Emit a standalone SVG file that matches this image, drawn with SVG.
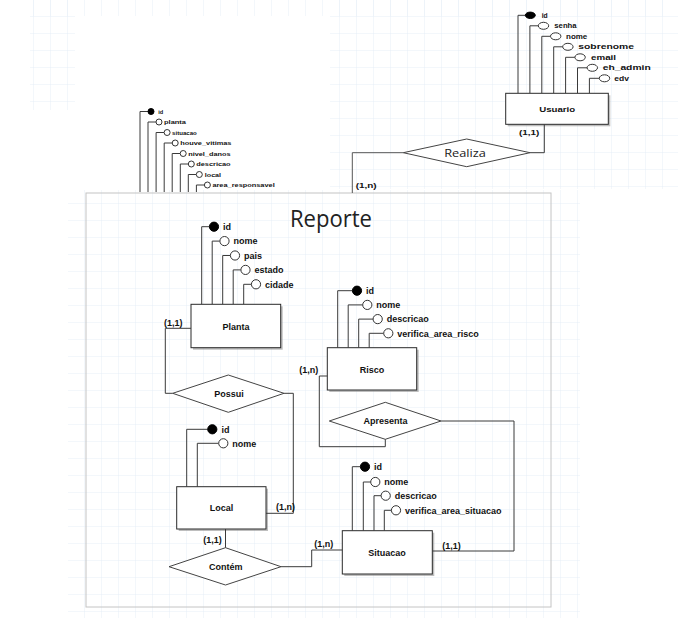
<svg xmlns="http://www.w3.org/2000/svg" width="678" height="618" viewBox="0 0 678 618">
<defs>
<pattern id="grid" width="17" height="17" patternUnits="userSpaceOnUse">
<path d="M17 0V17H0" fill="none" stroke="#e6eef7" stroke-width="1"/>
</pattern>
</defs>
<style>
.ln{stroke:#3a3a3a;stroke-width:1;fill:none}
.ln2{stroke:#555;stroke-width:1;fill:none}
.ent{fill:#fff;stroke:#2a2a2a;stroke-width:1}
.sh{fill:#888;opacity:.55}
.rel{fill:#fff;stroke:#444;stroke-width:1}
.at{fill:#fff;stroke:#333;stroke-width:1}
.pk{fill:#000;stroke:#000;stroke-width:1}
.t{font-family:"Liberation Sans",Arial,sans-serif;font-weight:bold;fill:#111}
.s9{font-size:9px}
.s7{font-size:7px}
.s6{font-size:6px}
.c{text-anchor:middle}
.os{font-family:"Open Sans","Noto Sans",sans-serif;fill:#222}
</style>
<rect width="678" height="618" fill="#fff"/>
<g id="background">
<rect x="30" y="0" width="648" height="16" fill="url(#grid)"/>
<rect x="30" y="0" width="45" height="110" fill="url(#grid)"/>
<rect x="330" y="0" width="348" height="189" fill="url(#grid)"/>
<rect x="68" y="190" width="512" height="428" fill="url(#grid)"/>
</g>
<g id="reporte">
<rect x="86" y="193" width="465" height="414" fill="none" stroke="#c4c4c4" stroke-width="1"/>
<text class="os" x="290" y="226.7" font-size="23" textLength="82" lengthAdjust="spacingAndGlyphs">Reporte</text>
</g>
<g id="reporte-attrs">
<path class="ln" d="M140,192V111.5H148 M148,192V122H156 M156.1,192V132.5H164 M164.2,192V143H172.2 M172.2,192V153.5H180.2 M180.3,192V164H188.3 M188.3,192V174.5H196.3 M196.4,192V185H204.4"/>
<circle class="pk" cx="151" cy="111.5" r="3"/>
<circle class="at" cx="159" cy="122" r="3"/>
<circle class="at" cx="167.1" cy="132.5" r="3"/>
<circle class="at" cx="175.2" cy="143" r="3"/>
<circle class="at" cx="183.2" cy="153.5" r="3"/>
<circle class="at" cx="191.3" cy="164" r="3"/>
<circle class="at" cx="199.3" cy="174.5" r="3"/>
<circle class="at" cx="207.4" cy="185" r="3"/>
<text class="t s6" x="158.3" y="113.7" textLength="5" lengthAdjust="spacingAndGlyphs">id</text>
<text class="t s6" x="164" y="124.2" textLength="22" lengthAdjust="spacingAndGlyphs">planta</text>
<text class="t s6" x="172.1" y="134.7" textLength="24.7" lengthAdjust="spacingAndGlyphs">situacao</text>
<text class="t s6" x="180.2" y="145.2" textLength="51.3" lengthAdjust="spacingAndGlyphs">houve_vitimas</text>
<text class="t s6" x="188.2" y="155.7" textLength="42.3" lengthAdjust="spacingAndGlyphs">nivel_danos</text>
<text class="t s6" x="196.3" y="166.2" textLength="34.3" lengthAdjust="spacingAndGlyphs">descricao</text>
<text class="t s6" x="204.8" y="176.7" textLength="16.3" lengthAdjust="spacingAndGlyphs">local</text>
<text class="t s6" x="212.4" y="187.2" textLength="62.3" lengthAdjust="spacingAndGlyphs">area_responsavel</text>
</g>
<g id="usuario">
<path class="ln" d="M518,93.3V15.3H525.1 M529.9,93.3V25.8H538.4 M541.8,93.3V36.3H550.6 M553.7,93.3V46.8H562.8 M565.6,93.3V57.3H575 M577.5,93.3V67.8H587.2 M589.4,93.3V78.3H599.4"/>
<ellipse class="pk" cx="530.3" cy="15.3" rx="5" ry="3.2"/>
<ellipse class="at" cx="543.5" cy="25.8" rx="5.2" ry="3.5"/>
<ellipse class="at" cx="555.7" cy="36.3" rx="5.2" ry="3.5"/>
<ellipse class="at" cx="567.9" cy="46.8" rx="5.2" ry="3.5"/>
<ellipse class="at" cx="580.1" cy="57.3" rx="5.2" ry="3.5"/>
<ellipse class="at" cx="592.3" cy="67.8" rx="5.2" ry="3.5"/>
<ellipse class="at" cx="604.5" cy="78.3" rx="5.2" ry="3.5"/>
<text class="t s7" x="541.7" y="17.8" textLength="6" lengthAdjust="spacingAndGlyphs">id</text>
<text class="t s7" x="554.3" y="28.3" textLength="22.3" lengthAdjust="spacingAndGlyphs">senha</text>
<text class="t s7" x="566" y="38.8" textLength="21.3" lengthAdjust="spacingAndGlyphs">nome</text>
<text class="t s7" x="578.3" y="49.3" textLength="55.7" lengthAdjust="spacingAndGlyphs">sobrenome</text>
<text class="t s7" x="591" y="59.8" textLength="25" lengthAdjust="spacingAndGlyphs">email</text>
<text class="t s7" x="602.7" y="70.3" textLength="48" lengthAdjust="spacingAndGlyphs">eh_admin</text>
<text class="t s7" x="614.3" y="80.8" textLength="14.7" lengthAdjust="spacingAndGlyphs">edv</text>
<rect class="sh" x="507.7" y="95.3" width="102.6" height="31"/>
<rect class="ent" x="505.7" y="93.3" width="102.6" height="31"/>
<text class="t s7 c" x="557.2" y="111.5" textLength="36" lengthAdjust="spacingAndGlyphs">Usuario</text>
</g>
<g id="realiza">
<polygon class="rel" points="403.3,152.7 466.7,139 530,152.7 466.7,166.7"/>
<text class="os c" x="465" y="156.8" font-size="11" textLength="41.7" lengthAdjust="spacingAndGlyphs">Realiza</text>
</g>
<g id="planta">
<path class="ln" d="M201.7,304.3V226.7H209.3 M212.2,304.3V241.1H219.8 M222.7,304.3V255.5H230.3 M233.2,304.3V269.9H240.8 M243.7,304.3V284.3H251.3"/>
<circle class="pk" cx="214" cy="226.7" r="4.6"/>
<circle class="at" cx="224.5" cy="241.1" r="4.6"/>
<circle class="at" cx="235" cy="255.5" r="4.6"/>
<circle class="at" cx="245.5" cy="269.9" r="4.6"/>
<circle class="at" cx="256" cy="284.3" r="4.6"/>
<text class="t s9" x="223" y="229.9">id</text>
<text class="t s9" x="233.5" y="244.3">nome</text>
<text class="t s9" x="244" y="258.7">pais</text>
<text class="t s9" x="254.5" y="273.1">estado</text>
<text class="t s9" x="265" y="287.5">cidade</text>
<rect class="sh" x="193" y="306.3" width="89.7" height="43.4"/>
<rect class="ent" x="191" y="304.3" width="89.7" height="43.4"/>
<text class="t s9 c" x="236" y="329.8">Planta</text>
</g>
<g id="risco">
<path class="ln" d="M337.7,347.7V290.7H352.4 M348.2,347.7V304.9H362.7 M358.7,347.7V319.1H373.1 M369.2,347.7V333.3H383.7"/>
<circle class="pk" cx="357" cy="290.7" r="4.6"/>
<circle class="at" cx="367.3" cy="304.9" r="4.6"/>
<circle class="at" cx="377.7" cy="319.1" r="4.6"/>
<circle class="at" cx="388.3" cy="333.3" r="4.6"/>
<text class="t s9" x="366" y="293.9">id</text>
<text class="t s9" x="376.3" y="308.1">nome</text>
<text class="t s9" x="386.7" y="322.3">descricao</text>
<text class="t s9" x="397.3" y="336.5">verifica_area_risco</text>
<rect class="sh" x="329.3" y="349.7" width="89.4" height="42.3"/>
<rect class="ent" x="327.3" y="347.7" width="89.4" height="42.3"/>
<text class="t s9 c" x="372" y="372.5">Risco</text>
</g>
<g id="local">
<path class="ln" d="M186.7,486.7V429.3H207.7 M197.3,486.7V443.3H218.7"/>
<circle class="pk" cx="212.3" cy="429.3" r="4.6"/>
<circle class="at" cx="223.3" cy="443.3" r="4.6"/>
<text class="t s9" x="221.5" y="432.5">id</text>
<text class="t s9" x="232.3" y="446.5">nome</text>
<rect class="sh" x="178.7" y="488.7" width="89.3" height="42.3"/>
<rect class="ent" x="176.7" y="486.7" width="89.3" height="42.3"/>
<text class="t s9 c" x="221.5" y="510.8">Local</text>
</g>
<g id="situacao">
<path class="ln" d="M352.3,530.7V466.7H360.4 M363.3,530.7V482H370.7 M374,530.7V495.7H381.1 M384.3,530.7V510.3H391.4"/>
<circle class="pk" cx="365" cy="466.7" r="4.6"/>
<circle class="at" cx="375.3" cy="482" r="4.6"/>
<circle class="at" cx="385.7" cy="495.7" r="4.6"/>
<circle class="at" cx="396" cy="510.3" r="4.6"/>
<text class="t s9" x="374" y="469.9">id</text>
<text class="t s9" x="384.3" y="485.2">nome</text>
<text class="t s9" x="394.7" y="498.9">descricao</text>
<text class="t s9" x="405" y="513.5">verifica_area_situacao</text>
<rect class="sh" x="344.3" y="532.7" width="90" height="43.3"/>
<rect class="ent" x="342.3" y="530.7" width="90" height="43.3"/>
<text class="t s9 c" x="387" y="555.5">Situacao</text>
</g>
<g id="possui">
<polygon class="rel" points="172.7,393.3 228.3,375 284,393.3 228.3,412.3"/>
<text class="t s9 c" x="229" y="396.6">Possui</text>
</g>
<g id="apresenta">
<polygon class="rel" points="329.3,421 385.3,402.3 441,421 385.3,439.3"/>
<text class="t s9 c" x="385.5" y="424.3">Apresenta</text>
</g>
<g id="contem">
<polygon class="rel" points="169,566.7 225.5,547.7 281,566.7 225.5,585"/>
<text class="t s9 c" x="225.7" y="570">Contém</text>
</g>
<g id="connectors">
<path class="ln" d="M544.3,124.3V152.7H530"/>
<path class="ln2" d="M403.3,152.7H352.3V193"/>
<path class="ln" d="M191,328.3H165.3V393.3H172.7"/>
<path class="ln" d="M284,393.3H293.3V513.3H266"/>
<path class="ln" d="M327.3,376H319.3V446.7H385.3V439.3"/>
<path class="ln" d="M441,421H514V551H432.3"/>
<path class="ln" d="M225.5,529V547.7"/>
<path class="ln" d="M281,566.7H311.7V550H342.3"/>
</g>
<g id="cardinalities">
<text class="t s7" x="519" y="135.2" textLength="20.3" lengthAdjust="spacingAndGlyphs">(1,1)</text>
<text class="t s7" x="355.7" y="187.8" textLength="21" lengthAdjust="spacingAndGlyphs">(1,n)</text>
<text class="t s9" x="164" y="325.8" font-size="8.5">(1,1)</text>
<text class="t s9" x="299.3" y="373" font-size="8.5">(1,n)</text>
<text class="t s9" x="276" y="509.8" font-size="8.5">(1,n)</text>
<text class="t s9" x="203.3" y="543" font-size="8.5">(1,1)</text>
<text class="t s9" x="314.3" y="547.4" font-size="8.5">(1,n)</text>
<text class="t s9" x="442.3" y="548.8" font-size="8.5">(1,1)</text>
</g>
</svg>
